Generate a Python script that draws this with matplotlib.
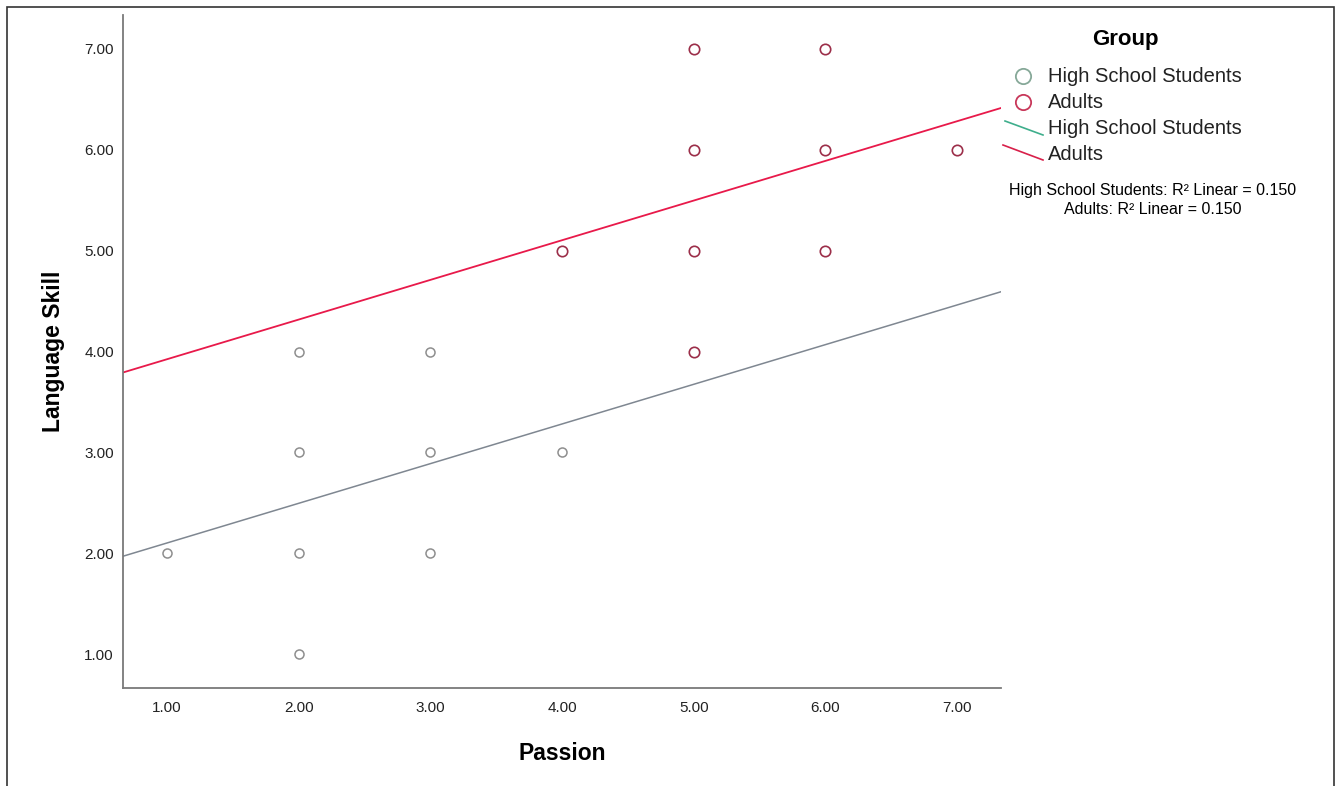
import numpy as np
import matplotlib
matplotlib.use("Agg")
import matplotlib.pyplot as plt
from matplotlib.lines import Line2D
from matplotlib.patches import Rectangle

plt.rcParams["font.family"] = ["Liberation Sans", "DejaVu Sans"]

# data
hs_passion = [1, 2, 2, 2, 2, 3, 3, 3, 4]
hs_skill = [2, 1, 2, 3, 4, 2, 3, 4, 3]
ad_passion = [4, 5, 5, 5, 5, 6, 6, 6, 7]
ad_skill = [5, 4, 5, 6, 7, 5, 6, 7, 6]
groups = ["High School Students", "Adults"]
fit_intercept = [1.71, 3.53]
fit_slope = [0.393, 0.393]
r2 = [0.150, 0.150]
ticks = [1, 2, 3, 4, 5, 6, 7]

W, H = 1336, 786
fig = plt.figure(figsize=(W / 100, H / 100), dpi=100)
ax = fig.add_axes([123 / W, 1 - 688 / H, (1001 - 123) / W, (688 - 15) / H])

ax.plot(hs_passion, hs_skill, "o", ms=6.5, mfc="none", mec="#8e8e8e", mew=1.1, zorder=3)
ax.plot(ad_passion, ad_skill, "o", ms=7.5, mfc="none", mec="#9c2f4a", mew=1.2, zorder=3)

xlim = (0.667, 7.333)
xs = np.array(xlim)
ax.plot(xs, fit_intercept[0] + fit_slope[0] * xs, color="#7f8791", lw=1.1, zorder=2)
ax.plot(xs, fit_intercept[1] + fit_slope[1] * xs, color="#e8194a", lw=1.3, zorder=2)

ax.set_xlim(xlim)
ax.set_ylim(0.667, 7.333)
ax.set_xticks(ticks)
ax.set_yticks(ticks)
ax.set_xticklabels([f"{t:.2f}" for t in ticks])
ax.set_yticklabels([f"{t:.2f}" for t in ticks])
ax.tick_params(length=0, labelsize=11, colors="#222222")
ax.tick_params(axis="x", pad=9)
ax.tick_params(axis="y", pad=6.5)
for s in ["top", "right"]:
    ax.spines[s].set_visible(False)
for s in ["left", "bottom"]:
    ax.spines[s].set_color("#7a7a7a")
    ax.spines[s].set_linewidth(1.3)

ax.set_xlabel("Passion", fontsize=16.5, fontweight="bold", labelpad=20)
ax.set_ylabel("Language Skill", fontsize=16.5, fontweight="bold", labelpad=14)

# legend drawn by hand, SPSS style
def fx(px):
    return px / W

def fy(py):
    return 1 - py / H

fig.text(fx(1125), fy(40), "Group", fontsize=16, fontweight="bold", ha="center", va="center")
label_y = [76, 102, 129, 155]
for yy, lab in zip(label_y, groups + groups):
    fig.text(fx(1048), fy(yy), lab, fontsize=14.5, ha="left", va="center", color="#222222")
fig.add_artist(Line2D([fx(1023)], [fy(76)], marker="o", ms=11, mfc="none", mec="#86a898",
                      mew=1.3, transform=fig.transFigure))
fig.add_artist(Line2D([fx(1023)], [fy(102)], marker="o", ms=11, mfc="none", mec="#c8385a",
                      mew=1.3, transform=fig.transFigure))
fig.add_artist(Line2D([fx(1005), fx(1043)], [fy(121), fy(135)], color="#3fae8c", lw=1.2,
                      transform=fig.transFigure))
fig.add_artist(Line2D([fx(1003), fx(1043)], [fy(145), fy(160)], color="#d8204a", lw=1.2,
                      transform=fig.transFigure))
fig.text(fx(1153), fy(190), f"{groups[0]}: R² Linear = {r2[0]:.3f}", fontsize=11.5,
         ha="center", va="center")
fig.text(fx(1153), fy(210), f"{groups[1]}: R² Linear = {r2[1]:.3f}", fontsize=11.5,
         ha="center", va="center")

fig.add_artist(Rectangle((fx(7), fy(H + 20)), fx(1334) - fx(7), fy(7) - fy(H + 20),
                         fill=False, ec="#333333", lw=1.2, transform=fig.transFigure))

fig.savefig("out.png", dpi=100, facecolor="white")
